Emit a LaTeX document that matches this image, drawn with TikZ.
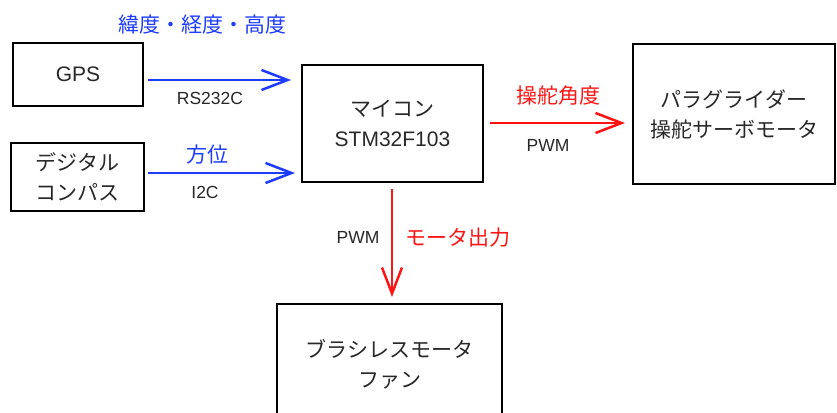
\documentclass[tikz,border=0pt]{standalone}
\usepackage{fontspec}
\setmainfont{Liberation Sans}
\newfontfamily\jp{Noto Sans CJK JP}
\usetikzlibrary{arrows.meta}
\definecolor{ablue}{RGB}{30,60,255}
\definecolor{ared}{RGB}{255,20,20}
\definecolor{txt}{RGB}{40,40,40}
\tikzset{
  box/.style={draw=black, line width=2pt, inner sep=0pt, align=center, text=txt,
    font=\fontsize{21}{30}\selectfont},
  arr/.style={line width=2.5pt, -{Straight Barb[length=26pt,width=20pt,line width=2.5pt]}},
  barr/.style={arr, draw=ablue},
  rarr/.style={arr, draw=ared},
  small/.style={text=txt, inner sep=0pt, font=\fontsize{17.5}{20}\selectfont},
  blab/.style={text=ablue, inner sep=0pt, font=\fontsize{21}{24}\selectfont\jp},
  rlab/.style={text=ared, inner sep=0pt, font=\fontsize{21}{24}\selectfont\jp},
}
\begin{document}
\begin{tikzpicture}[x=1pt,y=-1pt]
\clip (0,0) rectangle (837,412);
\fill[white] (0,0) rectangle (837,412);
\node[box, minimum width=130pt, minimum height=63pt] (gps) at (78,74.5) {GPS};
\node[box, minimum width=133pt, minimum height=68pt] (comp) at (77.5,177) {{\jp デジタル}\\{\jp コンパス}};
\node[box, minimum width=181pt, minimum height=117pt] (mcu) at (392.5,123.5) {{\jp マイコン}\\STM32F103};
\node[box, minimum width=202pt, minimum height=140pt] (para) at (734,114) {{\jp パラグライダー}\\{\jp 操舵サーボモータ}};
\node[box, minimum width=225pt, minimum height=120pt] (fan) at (389.5,364) {{\jp ブラシレスモータ}\\{\jp ファン}};

\draw[barr] ([shift={(4,5.5)}]gps.east) -- ([shift={(-10,-43.5)}]mcu.west);
\draw[barr] ([shift={(3,-4)}]comp.east) -- ([shift={(-6,49.5)}]mcu.west);
\draw[rarr] ([shift={(6,-0.5)}]mcu.east) -- ([shift={(-7,9)}]para.west);
\draw[rarr] ([shift={(-0.5,6)}]mcu.south) -- ([shift={(2.5,-6)}]fan.north);

\node[blab] (l1) at (202,25) {緯度・経度・高度};
\node[small] (l2) at (210,98) {RS232C};
\node[blab] (l3) at (207,155) {方位};
\node[small] (l4) at (205,192) {I2C};
\node[rlab] (l5) at (558,96) {操舵角度};
\node[small] (l6) at (548,145) {PWM};
\node[small] (l7) at (358,237) {PWM};
\node[rlab] (l8) at (458,238) {モータ出力};
\end{tikzpicture}
\end{document}
